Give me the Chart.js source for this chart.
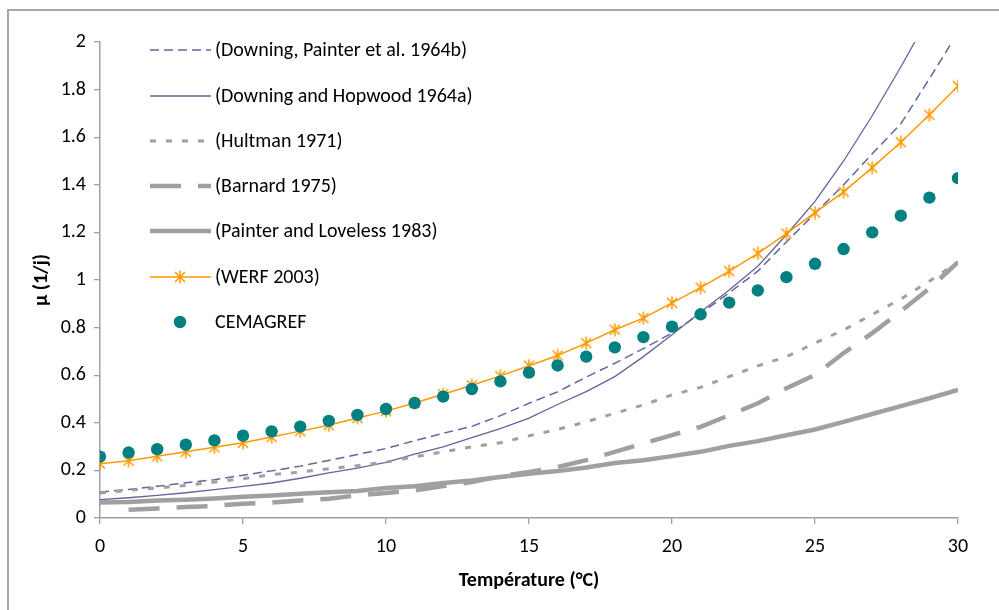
<!DOCTYPE html>
<html lang="fr">
<head>
<meta charset="UTF-8">
<title>Taux de croissance selon la température</title>
<script src="https://cdn.jsdelivr.net/npm/chart.js"></script>
<style>
    html, body { margin: 0; padding: 0; background: #fff; }
    .frame { position: relative; width: 999px; height: 610px; }
    .frame:before {
        content: ""; position: absolute; left: 7px; top: 9px; right: -10px; bottom: -10px;
        border-left: 2px solid #a6a6a6; border-top: 2px solid #a6a6a6;
    }
    canvas { position: absolute; left: 0; top: 0; }
</style>
</head>
<body>
<div class="frame">
    <canvas id="muChart" width="999" height="610"></canvas>
</div>
<script>
// temperatures (°C)
const temps = [0,1,2,3,4,5,6,7,8,9,10,11,12,13,14,15,16,17,18,19,20,21,22,23,24,25,26,27,28,29,30];

const downingPainter = [0.109,0.12,0.133,0.148,0.161,0.18,0.198,0.218,0.242,0.267,0.292,0.325,0.356,0.385,0.43,0.482,0.53,0.592,0.65,0.712,0.777,0.86,0.946,1.037,1.16,1.28,1.4,1.53,1.656,1.846,2.04];
const downingHopwood = [0.077,0.085,0.095,0.106,0.119,0.133,0.147,0.167,0.19,0.21,0.234,0.268,0.299,0.338,0.376,0.42,0.477,0.531,0.594,0.678,0.77,0.866,0.958,1.058,1.19,1.33,1.5,1.69,1.895,2.11,2.35];
const hultman = [0.105,0.116,0.126,0.137,0.151,0.165,0.182,0.193,0.207,0.22,0.235,0.257,0.278,0.299,0.316,0.345,0.372,0.404,0.44,0.475,0.517,0.549,0.594,0.639,0.678,0.735,0.79,0.855,0.92,0.995,1.075];
const barnard = [null,0.035,0.04,0.046,0.051,0.06,0.065,0.074,0.081,0.095,0.105,0.116,0.134,0.151,0.175,0.193,0.214,0.243,0.278,0.313,0.348,0.383,0.432,0.482,0.545,0.601,0.693,0.777,0.868,0.965,1.075];
const painterLoveless = [0.065,0.067,0.074,0.077,0.082,0.089,0.095,0.102,0.108,0.113,0.126,0.133,0.147,0.158,0.172,0.186,0.197,0.212,0.231,0.243,0.26,0.278,0.303,0.323,0.348,0.372,0.404,0.437,0.47,0.503,0.538];
const werf = [0.228,0.241,0.259,0.278,0.297,0.316,0.34,0.365,0.39,0.42,0.449,0.483,0.52,0.558,0.597,0.64,0.683,0.735,0.791,0.84,0.904,0.968,1.037,1.112,1.195,1.283,1.37,1.472,1.579,1.694,1.815];
const cemagref = [0.258,0.275,0.289,0.308,0.326,0.346,0.364,0.384,0.408,0.433,0.458,0.483,0.51,0.542,0.574,0.611,0.641,0.678,0.717,0.76,0.804,0.856,0.905,0.956,1.012,1.068,1.13,1.2,1.27,1.346,1.428];

const seriesNames = ['(Downing, Painter et al. 1964b)', '(Downing and Hopwood 1964a)', '(Hultman 1971)',
    '(Barnard 1975)', '(Painter and Loveless 1983)', '(WERF 2003)', 'CEMAGREF'];

const xTicks = [0, 5, 10, 15, 20, 25, 30];
const yTicks = [0, 0.2, 0.4, 0.6, 0.8, 1, 1.2, 1.4, 1.6, 1.8, 2];

const FONT = 'Calibri, Carlito, Lato, sans-serif';
const purple = '#64649f';
const grey = '#a0a0a0';
const orange = '#ff9900';
const teal = '#008080';

// Excel style asterisk marker (X plus a vertical bar)
function makeAsterisk() {
    const c = document.createElement('canvas');
    c.width = 14; c.height = 14;
    const g = c.getContext('2d');
    g.strokeStyle = orange;
    g.lineWidth = 1.5;
    g.beginPath();
    g.moveTo(2, 2); g.lineTo(12, 12);
    g.moveTo(12, 2); g.lineTo(2, 12);
    g.moveTo(7, 0.5); g.lineTo(7, 13.5);
    g.stroke();
    return c;
}
const asterisk = makeAsterisk();

function pts(values) {
    return temps.map((t, i) => ({ x: t, y: values[i] }));
}

function lineSet(label, values, color, width, dash, order) {
    return {
        label: label,
        data: pts(values),
        borderColor: color,
        backgroundColor: color,
        borderWidth: width,
        borderDash: dash,
        pointRadius: 0,
        pointHoverRadius: 0,
        tension: 0,
        fill: false,
        order: order
    };
}

const datasets = [
    lineSet(seriesNames[0], downingPainter, purple, 1.5, [9, 5], 7),
    lineSet(seriesNames[1], downingHopwood, purple, 1.3, [], 6),
    lineSet(seriesNames[2], hultman, grey, 3, [6, 10], 5),
    lineSet(seriesNames[3], barnard, grey, 4.5, [31, 17], 4),
    lineSet(seriesNames[4], painterLoveless, grey, 4.5, [], 3),
    Object.assign(lineSet(seriesNames[5], werf, orange, 1.5, [], 2), {
        pointStyle: asterisk, pointRadius: 7
    }),
    {
        label: seriesNames[6],
        data: pts(cemagref),
        showLine: false,
        pointStyle: 'circle',
        pointRadius: 6.2,
        pointBorderWidth: 0,
        backgroundColor: teal,
        borderColor: teal,
        order: 1
    }
];

// legend drawn inside the plot area, like the original
const insideLegend = {
    id: 'insideLegend',
    afterDraw(chart) {
        const ctx = chart.ctx;
        const rows = [50, 96, 141, 186, 231, 277, 322];
        const x0 = 150, x1 = 211, tx = 215;
        ctx.save();
        chart.data.datasets.forEach((ds, i) => {
            const y = rows[i];
            if (ds.showLine !== false) {
                ctx.beginPath();
                ctx.setLineDash(ds.borderDash || []);
                ctx.lineWidth = ds.borderWidth;
                ctx.strokeStyle = ds.borderColor;
                ctx.moveTo(x0, y);
                ctx.lineTo(x1, y);
                ctx.stroke();
                ctx.setLineDash([]);
            }
            if (ds.pointStyle === asterisk) {
                ctx.drawImage(asterisk, 180 - 7, y - 7);
            } else if (ds.showLine === false) {
                ctx.fillStyle = teal;
                ctx.beginPath();
                ctx.arc(180, y, 6.2, 0, Math.PI * 2);
                ctx.fill();
            }
            ctx.fillStyle = '#000';
            ctx.font = '20px ' + FONT;
            ctx.textBaseline = 'middle';
            ctx.textAlign = 'left';
            ctx.fillText(ds.label, tx, y + 1);
        });
        ctx.restore();
    }
};

new Chart(document.getElementById('muChart'), {
    type: 'line',
    data: { datasets: datasets },
    options: {
        responsive: false,
        animation: false,
        layout: { padding: { left: 0, top: 42, right: 41, bottom: 0 } },
        plugins: {
            legend: { display: false },
            tooltip: { enabled: false }
        },
        scales: {
            x: {
                type: 'linear',
                min: 0,
                max: 30,
                afterBuildTicks: (s) => { s.ticks = xTicks.map(v => ({ value: v })); },
                afterFit: (s) => { s.height = 92; },
                grid: { drawOnChartArea: false, drawTicks: true, tickLength: 6, color: grey, lineWidth: 1.3 },
                border: { color: grey, width: 1.5 },
                ticks: { color: '#000', font: { family: FONT, size: 20 }, padding: 11, maxRotation: 0,
                    callback: (v) => String(v) },
                title: {
                    display: true, text: 'Température (°C)', color: '#000',
                    font: { family: FONT, size: 20, weight: 'bold' }, padding: { bottom: 17 }
                }
            },
            y: {
                min: 0,
                max: 2,
                afterBuildTicks: (s) => { s.ticks = yTicks.map(v => ({ value: v })); },
                afterFit: (s) => { s.width = 100; },
                grid: { drawOnChartArea: false, drawTicks: true, tickLength: 6, color: grey, lineWidth: 1.3 },
                border: { color: grey, width: 1.5 },
                ticks: { color: '#000', font: { family: FONT, size: 20 }, padding: 8,
                    callback: (v) => String(Math.round(v * 10) / 10) },
                title: {
                    display: true, text: 'µ (1/j)', color: '#000',
                    font: { family: FONT, size: 20, weight: 'bold' }, padding: { top: 30 }
                }
            }
        }
    },
    plugins: [insideLegend]
});
</script>
</body>
</html>
